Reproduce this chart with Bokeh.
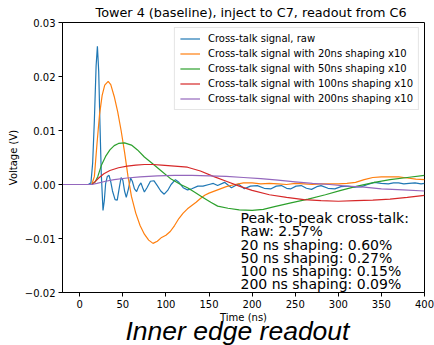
from bokeh.plotting import figure
from bokeh.models import Label, FixedTicker, CustomJSTickFormatter, Range1d, Title
from bokeh.embed import file_html
from bokeh.resources import INLINE

# ---- data ----
raw_t = [-20, -10, 0, 10, 13, 15, 17, 19, 20.5, 22, 23.5, 25, 27, 28.5, 30, 32, 34, 36, 38, 41, 43.5,
         46, 48, 50, 52, 54, 56.5, 59, 61, 63.5, 66, 68.5, 71, 73, 75, 78, 82, 86, 90, 94, 98, 102,
         106, 111, 115, 120, 125, 130, 137, 143, 150, 155, 160, 168, 176, 184, 191, 198, 206, 214,
         222, 228, 234, 240, 245, 251, 257, 263, 269, 275, 280, 288, 296, 303, 311, 319, 327, 334,
         342, 350, 358, 364, 370, 376, 382, 389, 396, 400]
raw_v = [0, 0, 0, 0, 0.0003, 0.004, 0.012, 0.022, 0.0256, 0.021, 0.011, 0.002, -0.0048, -0.003,
         0.0001, 0.0015, 0.0017, 0.0005, -0.0012, -0.0028, -0.0029, -0.0005, 0.0013, 0.0008, -0.0012,
         -0.0024, -0.0008, 0.0012, 0.0006, -0.0008, -0.0013, -0.0003, 0.0003, -0.0006, -0.0014,
         -0.0006, 0.0006, 0.0007, -0.0002, -0.0012, -0.0018, -0.0011, 0.0, 0.0009, 0.0004, -0.0006,
         -0.001, -0.0008, -0.0003, -0.0003, 0.0, 0.0002, -0.0002, 0.0004, -0.0006, 0.0001, -0.0008,
         -0.0003, -0.0002, -0.0007, -0.0008, -0.0003, -0.0002, -0.0007, -0.0008, -0.0003, -0.0002,
         -0.0007, -0.0009, -0.0004, -0.0002, -0.0007, -0.0008, -0.0004, -0.0003, -0.0005, -0.0004,
         0.0, 0.0004, 0.0002, 0.0001, 0.0003, 0.0003, 0.0001, 0.0002, 0.0003, 0.0001, 0.0002]

s20_t = [-20, 0, 14, 17, 20, 23, 26, 29, 33, 36, 40, 44, 48, 52, 56, 60, 65, 70, 75, 80, 85, 90,
         95, 100, 105, 110, 115, 120, 125, 130, 135, 140, 145, 150, 160, 170, 180, 190, 200, 210,
         220, 230, 240, 250, 260, 270, 280, 290, 300, 310, 320, 330, 340, 350, 360, 370, 380, 390, 400]
s20_v = [0, 0, 0, 0.0015, 0.0075, 0.013, 0.0165, 0.0184, 0.0191, 0.0185, 0.0163, 0.0135, 0.01,
         0.006, 0.0015, -0.0022, -0.0053, -0.0076, -0.0092, -0.0103, -0.0109, -0.0105, -0.0098,
         -0.0094, -0.0087, -0.0076, -0.0063, -0.0053, -0.0045, -0.0039, -0.0033, -0.0026, -0.002,
         -0.0016, -0.001, -0.0004, 0.0, 0.0003, 0.0003, 0.0001, 0.0002, 0.0001, 0.0, 0.0002, 0.0001,
         0.0, 0.0001, 0.0001, 0.0001, 0.0002, 0.0004, 0.0009, 0.0013, 0.0014, 0.0014, 0.0014, 0.0012,
         0.001, 0.0009]

s50_t = [-20, 0, 14, 18, 21, 25, 30, 35, 40, 45, 52, 60, 67, 75, 85, 94, 106, 117, 125, 133, 142,
         152, 160, 172, 185, 200, 213, 226, 245, 265, 285, 303, 322, 342, 360, 380, 400]
s50_v = [0, 0, 0, 0.0005, 0.0015, 0.0035, 0.0052, 0.0064, 0.0072, 0.0076, 0.0077, 0.0073, 0.0064,
         0.0051, 0.0038, 0.0026, 0.001, 0.0, -0.0006, -0.0014, -0.0023, -0.0033, -0.004, -0.0044,
         -0.0047, -0.0048, -0.0046, -0.0041, -0.0034, -0.0027, -0.0019, -0.0011, -0.0003, 0.0004,
         0.0009, 0.0013, 0.0017]

s100_t = [-20, 0, 14, 17, 22, 28, 35, 45, 55, 65, 75, 85, 95, 110, 125, 140, 155, 170, 185, 200,
          220, 240, 260, 280, 300, 320, 340, 360, 380, 400]
s100_v = [0, 0, 0, 0.0004, 0.0012, 0.002, 0.0026, 0.0031, 0.0034, 0.0036, 0.0037, 0.0037, 0.0036,
          0.0034, 0.0032, 0.0025, 0.0015, 0.0006, -0.0003, -0.0011, -0.0019, -0.0024, -0.0028,
          -0.003, -0.0031, -0.003, -0.0029, -0.0027, -0.0024, -0.002]

s200_t = [-20, 0, 14, 20, 30, 40, 55, 70, 90, 110, 130, 150, 170, 190, 210, 230, 250, 270, 290,
          310, 330, 350, 375, 400]
s200_v = [0, 0, 0, 0.0002, 0.0006, 0.0009, 0.0012, 0.0014, 0.0016, 0.0017, 0.0017, 0.0016, 0.0015,
          0.0013, 0.0011, 0.0008, 0.0005, 0.0002, 0.0, -0.0003, -0.0005, -0.0008, -0.001, -0.0012]

series_labels = ["Cross-talk signal, raw",
                 "Cross-talk signal with 20ns shaping x10",
                 "Cross-talk signal with 50ns shaping x10",
                 "Cross-talk signal with 100ns shaping x10",
                 "Cross-talk signal with 200ns shaping x10"]
colors = ["#1f77b4", "#ff7f0e", "#2ca02c", "#d62728", "#9467bd"]

x_ticks = [0, 50, 100, 150, 200, 250, 300, 350, 400]
y_ticks = [-0.02, -0.01, 0.0, 0.01, 0.02, 0.03]

annot_lines = ["Peak-to-peak cross-talk:",
               "Raw: 2.57%",
               "20 ns shaping: 0.60%",
               "50 ns shaping: 0.27%",
               "100 ns shaping: 0.15%",
               "200 ns shaping: 0.09%"]

FONT = "DejaVu Sans"

p = figure(width=434, height=345, output_backend="svg", toolbar_location=None,
           x_range=Range1d(-20, 400), y_range=Range1d(-0.02, 0.03),
           title="Tower 4 (baseline), inject to C7, readout from C6",
           min_border_left=62, min_border_right=10, min_border_top=22, min_border_bottom=53)

p.title.text_font = FONT
p.title.text_font_size = "12.8px"
p.title.text_font_style = "normal"
p.title.align = "left"
p.title.offset = 33
p.title.text_color = "black"
p.title.standoff = 5

p.grid.visible = False
p.outline_line_color = "black"
p.outline_line_width = 1
p.outline_line_alpha = 1.0

for ax in (p.xaxis[0], p.yaxis[0]):
    ax.axis_line_color = "black"
    ax.major_tick_line_color = "black"
    ax.minor_tick_line_color = None
    ax.major_tick_in = 0
    ax.major_tick_out = 4
    ax.major_label_text_font = FONT
    ax.major_label_text_font_size = "10px"
    ax.major_label_text_color = "black"
    ax.axis_label_text_font = FONT
    ax.axis_label_text_font_size = "10px"
    ax.axis_label_text_font_style = "normal"
    ax.axis_label_text_color = "black"
    ax.major_label_standoff = 3
    ax.axis_label_standoff = 3
p.xaxis.axis_label_standoff = 1

p.xaxis.ticker = FixedTicker(ticks=x_ticks)
p.yaxis.ticker = FixedTicker(ticks=y_ticks)
p.yaxis.formatter = CustomJSTickFormatter(code="""
const v = Math.abs(tick) < 1e-9 ? 0 : tick;
return (v < 0 ? '\u2212' : '') + Math.abs(v).toFixed(2);
""")
p.xaxis.axis_label = "Time (ns)"
p.yaxis.axis_label = "Voltage (V)"

data = [(raw_t, raw_v), (s20_t, s20_v), (s50_t, s50_v), (s100_t, s100_v), (s200_t, s200_v)]
for (t, v), lab, c in zip(data, series_labels, colors):
    p.line(t, v, line_color=c, line_width=1.2, legend_label=lab)

lg = p.legend[0]
lg.location = "top_right"
lg.label_text_font = FONT
lg.label_text_font_size = "10px"
lg.label_text_color = "black"
lg.glyph_width = 20
lg.glyph_height = 11
lg.label_height = 11
lg.label_standoff = 8
lg.spacing = 4
lg.padding = 5
lg.margin = 5
lg.border_line_color = "#cccccc"
lg.border_line_width = 1
lg.background_fill_alpha = 0.8

# peak-to-peak annotation block
line_y = [-0.0062, -0.0086, -0.0112, -0.0137, -0.0161, -0.0185]
for txt, yy in zip(annot_lines, line_y):
    p.add_layout(Label(x=186.5, y=yy, text=txt, text_font=FONT, text_font_size="14px",
                       text_color="black", text_baseline="alphabetic", text_align="left"))

p.add_layout(Title(text="Inner edge readout", text_font="Liberation Sans",
                   text_font_style="italic", text_font_size="26.5px", text_color="black",
                   align="left", offset=63, standoff=-24), "below")

open("out.html", "w").write(file_html(p, INLINE))
